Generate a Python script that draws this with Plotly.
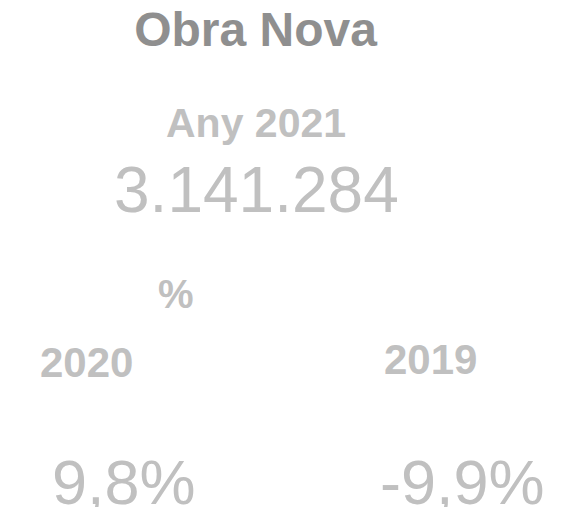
import plotly.graph_objects as go

# ---- data ----
chart_title = "Obra Nova"
main_label = "Any 2021"
main_value = 3141284
pct_label = "%"
comparison_years = ["2020", "2019"]
pct_changes = [9.8, -9.9]

OFF = 8  # page body margin
W, H = 585 - 2 * OFF, 515 - 2 * OFF
FONT = "Liberation Sans, Arial, sans-serif"
TITLE_COLOR = "#8f8f8f"
TEXT_COLOR = "#c0c0c0"


def fmt_int(v):
    return f"{v:,}".replace(",", ".")


def fmt_pct(v):
    return f"{v:.1f}".replace(".", ",") + "%"


def px(x):
    return (x - OFF) / W


def py(y):
    return 1 - (y - OFF) / H


fig = go.Figure()

annotations = []


def add(text, x, y, size, bold=False, color=TEXT_COLOR):
    annotations.append(dict(
        text=f"<b>{text}</b>" if bold else text,
        x=px(x), y=py(y), xref="paper", yref="paper",
        xanchor="center", yanchor="middle", showarrow=False,
        font=dict(family=FONT, size=size, color=color),
    ))


add(main_label, 256, 123, 41, bold=True)
add(fmt_int(main_value), 256, 190, 64)
add(pct_label, 176.5, 294, 40, bold=True)

year_x = [86.5, 430]
year_y = [362, 359]
val_x = [123.5, 462.5]
for yr, v, xx, yy, vx in zip(comparison_years, pct_changes, year_x, year_y, val_x):
    add(yr, xx, yy, 42, bold=True)
    add(fmt_pct(v), vx, 481.5, 63)

fig.update_layout(
    width=W, height=H,
    margin=dict(l=0, r=0, t=0, b=0),
    paper_bgcolor="white", plot_bgcolor="white",
    xaxis=dict(visible=False), yaxis=dict(visible=False),
    title=dict(text=f"<b>{chart_title}</b>", x=px(255.5), xref="paper", xanchor="center",
               y=py(29.5), yref="container", yanchor="middle",
               font=dict(family=FONT, size=48, color=TITLE_COLOR)),
    annotations=annotations,
    showlegend=False,
)

fig.write_html("out.html")
